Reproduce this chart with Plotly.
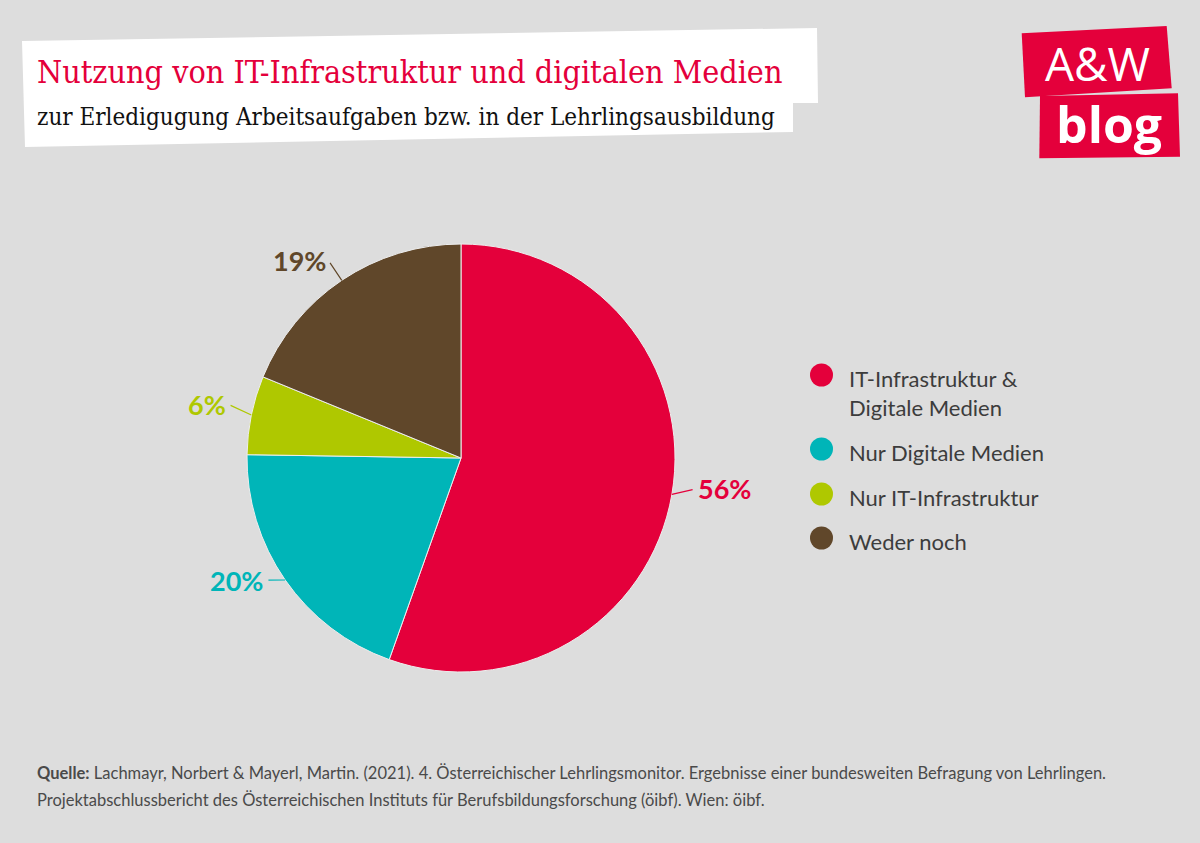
import numpy as np
import plotly.graph_objects as go

# ---- data ----
categories = ["IT-Infrastruktur &<br>Digitale Medien", "Nur Digitale Medien",
              "Nur IT-Infrastruktur", "Weder noch"]
values = [56, 20, 6, 19]
value_labels = ["56%", "20%", "6%", "19%"]
colors = ["#e4003b", "#00b5b8", "#afc800", "#60472a"]

title = "Nutzung von IT-Infrastruktur und digitalen Medien"
subtitle = "zur Erledigugung Arbeitsaufgaben bzw. in der Lehrlingsausbildung"
source_line1 = ("<b>Quelle:</b> Lachmayr, Norbert & Mayerl, Martin. (2021). 4. Österreichischer "
                "Lehrlingsmonitor. Ergebnisse einer bundesweiten Befragung von Lehrlingen.")
source_line2 = ("Projektabschlussbericht des Österreichischen Instituts für Berufsbildungsforschung "
                "(öibf). Wien: öibf.")

W, H = 1200, 843
BG = "#dddddd"
SANS = "Lato, 'Noto Sans', sans-serif"
SERIF = "'DejaVu Serif Condensed', 'Liberation Serif', serif"

cx, cy, r = 461, 458, 214  # pie geometry in pixels


def px(x):
    return x / W


def py(y):
    return 1 - y / H


fig = go.Figure()
fig.add_trace(go.Pie(
    labels=categories, values=values, sort=False, direction="clockwise", rotation=0,
    marker=dict(colors=colors, line=dict(color="#eeeeee", width=1)),
    textinfo="none", hoverinfo="label+percent", showlegend=False,
    domain=dict(x=[px(cx - r), px(cx + r)], y=[py(cy + r), py(cy - r)]),
))

annotations = []
shapes = []

# percentage labels with leader lines, positioned from slice mid-angles
total = sum(values)
cum = 0
for v, lab, col in zip(values, value_labels, colors):
    mid = (cum + v / 2) / total * 2 * np.pi
    cum += v
    ux, uy = np.sin(mid), -np.cos(mid)
    ex, ey = cx + r * ux, cy + r * uy
    L = 24
    annotations.append(dict(
        x=px(ex), y=py(ey), xref="paper", yref="paper",
        text=f"<b>{lab}</b>", showarrow=True, arrowhead=0, arrowwidth=1.2,
        arrowcolor=col, ax=ux * L, ay=uy * L * 0.6 - 8, standoff=0, startstandoff=3,
        xanchor="left" if ux > 0 else "right", yanchor="middle",
        font=dict(family=SANS, size=27, color=col),
    ))

# legend (manual, circles)
legend_y = [378, 452, 497, 541]
for cat, col, ly in zip(categories, colors, legend_y):
    shapes.append(dict(type="circle", xref="paper", yref="paper",
                       x0=px(810), x1=px(833), y0=py(ly - 3 + 11.5), y1=py(ly - 3 - 11.5),
                       fillcolor=col, line=dict(width=0)))
    multi = "<br>" in cat
    annotations.append(dict(
        x=px(847), y=py(ly - 15 if multi else ly), xref="paper", yref="paper",
        text=cat, showarrow=False, xanchor="left",
        yanchor="top" if multi else "middle", align="left",
        font=dict(family=SANS, size=22, color="#3c3c3c"),
    ))

# title white box
shapes.append(dict(type="path", xref="paper", yref="paper",
                   path=("M {},{} L {},{} L {},{} L {},{} L {},{} L {},{} Z").format(
                       px(22), py(41), px(817), py(28), px(818), py(103),
                       px(793), py(103), px(793), py(132), px(25), py(147)),
                   fillcolor="white", line=dict(width=0), layer="below"))

annotations.append(dict(x=px(35), y=py(72), xref="paper", yref="paper", text=title,
                        showarrow=False, xanchor="left", yanchor="middle",
                        font=dict(family=SERIF, size=32, color="#e4003b")))
annotations.append(dict(x=px(35), y=py(117), xref="paper", yref="paper", text=subtitle,
                        showarrow=False, xanchor="left", yanchor="middle",
                        font=dict(family=SERIF, size=24, color="#111111")))

# logo
shapes.append(dict(type="path", xref="paper", yref="paper",
                   path="M {},{} L {},{} L {},{} L {},{} Z".format(
                       px(1021.7), py(33.3), px(1166.7), py(26), px(1171.7), py(88.3),
                       px(1025), py(97.3)),
                   fillcolor="#e4003b", line=dict(width=0)))
shapes.append(dict(type="path", xref="paper", yref="paper",
                   path="M {},{} L {},{} L {},{} L {},{} Z".format(
                       px(1040), py(96), px(1178), py(93.3), px(1180), py(156.7),
                       px(1039.3), py(158.3)),
                   fillcolor="#e4003b", line=dict(width=0)))
annotations.append(dict(x=px(1097), y=py(63), xref="paper", yref="paper", text="A&amp;W",
                        showarrow=False, xanchor="center", yanchor="middle",
                        font=dict(family="'Open Sans', sans-serif", size=46, color="white")))
annotations.append(dict(x=px(1109), y=py(124), xref="paper", yref="paper", text="<b>blog</b>",
                        showarrow=False, xanchor="center", yanchor="middle",
                        font=dict(family="'Open Sans', sans-serif", size=50, color="white")))

# source
annotations.append(dict(x=px(35), y=py(773), xref="paper", yref="paper", text=source_line1,
                        showarrow=False, xanchor="left", yanchor="middle",
                        font=dict(family=SANS, size=16.5, color="#4a4a4a")))
annotations.append(dict(x=px(35), y=py(800), xref="paper", yref="paper", text=source_line2,
                        showarrow=False, xanchor="left", yanchor="middle",
                        font=dict(family=SANS, size=16.5, color="#4a4a4a")))

fig.update_layout(
    width=W, height=H, margin=dict(l=0, r=0, t=0, b=0),
    paper_bgcolor=BG, plot_bgcolor=BG,
    annotations=annotations, shapes=shapes, showlegend=False,
)

fig.write_html("out.html", config={"displayModeBar": False},
               post_script="document.body.style.margin='0';document.body.style.background='#dddddd';")
